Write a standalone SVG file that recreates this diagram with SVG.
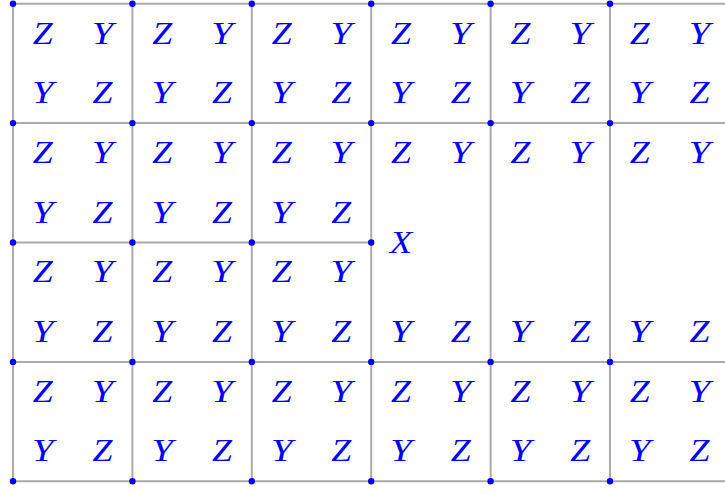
<svg xmlns="http://www.w3.org/2000/svg" width="725" height="494" viewBox="0 0 725 494">
<style>
.g{stroke:#aaaaaa;stroke-width:2;fill:none}
.d{fill:#0000ff}
text{font-family:"Liberation Serif","DejaVu Serif",serif;font-style:italic;font-size:31px;fill:#0000ff;text-anchor:middle}
</style>
<rect width="725" height="494" fill="#ffffff"/>
<g id="connectors" class="g">
<line x1="13" y1="3.7" x2="725" y2="3.7"/>
<line x1="13" y1="123.1" x2="725" y2="123.1"/>
<line x1="13" y1="242.5" x2="371.2" y2="242.5"/>
<line x1="13" y1="361.9" x2="725" y2="361.9"/>
<line x1="13" y1="481.3" x2="725" y2="481.3"/>
<line x1="13" y1="3.7" x2="13" y2="481.3"/>
<line x1="132.4" y1="3.7" x2="132.4" y2="481.3"/>
<line x1="251.8" y1="3.7" x2="251.8" y2="481.3"/>
<line x1="371.2" y1="3.7" x2="371.2" y2="481.3"/>
<line x1="490.6" y1="3.7" x2="490.6" y2="481.3"/>
<line x1="610" y1="3.7" x2="610" y2="481.3"/>
</g>
<g id="vertices" class="d">
<circle cx="13" cy="3.7" r="3.2"/><circle cx="132.4" cy="3.7" r="3.2"/><circle cx="251.8" cy="3.7" r="3.2"/><circle cx="371.2" cy="3.7" r="3.2"/><circle cx="490.6" cy="3.7" r="3.2"/><circle cx="610" cy="3.7" r="3.2"/>
<circle cx="13" cy="123.1" r="3.2"/><circle cx="132.4" cy="123.1" r="3.2"/><circle cx="251.8" cy="123.1" r="3.2"/><circle cx="371.2" cy="123.1" r="3.2"/><circle cx="490.6" cy="123.1" r="3.2"/><circle cx="610" cy="123.1" r="3.2"/>
<circle cx="13" cy="242.5" r="3.2"/><circle cx="132.4" cy="242.5" r="3.2"/><circle cx="251.8" cy="242.5" r="3.2"/><circle cx="371.2" cy="242.5" r="3.2"/>
<circle cx="13" cy="361.9" r="3.2"/><circle cx="132.4" cy="361.9" r="3.2"/><circle cx="251.8" cy="361.9" r="3.2"/><circle cx="371.2" cy="361.9" r="3.2"/><circle cx="490.6" cy="361.9" r="3.2"/><circle cx="610" cy="361.9" r="3.2"/>
<circle cx="13" cy="481.3" r="3.2"/><circle cx="132.4" cy="481.3" r="3.2"/><circle cx="251.8" cy="481.3" r="3.2"/><circle cx="371.2" cy="481.3" r="3.2"/><circle cx="490.6" cy="481.3" r="3.2"/><circle cx="610" cy="481.3" r="3.2"/>
</g>
<g id="cell-r0c0"><text x="42.85" y="43.5" textLength="20" lengthAdjust="spacingAndGlyphs">Z</text><text x="102.55" y="43.5" textLength="21.5" lengthAdjust="spacingAndGlyphs">Y</text><text x="42.85" y="103.2" textLength="21.5" lengthAdjust="spacingAndGlyphs">Y</text><text x="102.55" y="103.2" textLength="20" lengthAdjust="spacingAndGlyphs">Z</text></g>
<g id="cell-r0c1"><text x="162.25" y="43.5" textLength="20" lengthAdjust="spacingAndGlyphs">Z</text><text x="221.95" y="43.5" textLength="21.5" lengthAdjust="spacingAndGlyphs">Y</text><text x="162.25" y="103.2" textLength="21.5" lengthAdjust="spacingAndGlyphs">Y</text><text x="221.95" y="103.2" textLength="20" lengthAdjust="spacingAndGlyphs">Z</text></g>
<g id="cell-r0c2"><text x="281.65" y="43.5" textLength="20" lengthAdjust="spacingAndGlyphs">Z</text><text x="341.35" y="43.5" textLength="21.5" lengthAdjust="spacingAndGlyphs">Y</text><text x="281.65" y="103.2" textLength="21.5" lengthAdjust="spacingAndGlyphs">Y</text><text x="341.35" y="103.2" textLength="20" lengthAdjust="spacingAndGlyphs">Z</text></g>
<g id="cell-r0c3"><text x="401.05" y="43.5" textLength="20" lengthAdjust="spacingAndGlyphs">Z</text><text x="460.75" y="43.5" textLength="21.5" lengthAdjust="spacingAndGlyphs">Y</text><text x="401.05" y="103.2" textLength="21.5" lengthAdjust="spacingAndGlyphs">Y</text><text x="460.75" y="103.2" textLength="20" lengthAdjust="spacingAndGlyphs">Z</text></g>
<g id="cell-r0c4"><text x="520.45" y="43.5" textLength="20" lengthAdjust="spacingAndGlyphs">Z</text><text x="580.15" y="43.5" textLength="21.5" lengthAdjust="spacingAndGlyphs">Y</text><text x="520.45" y="103.2" textLength="21.5" lengthAdjust="spacingAndGlyphs">Y</text><text x="580.15" y="103.2" textLength="20" lengthAdjust="spacingAndGlyphs">Z</text></g>
<g id="cell-r0c5"><text x="639.85" y="43.5" textLength="20" lengthAdjust="spacingAndGlyphs">Z</text><text x="699.55" y="43.5" textLength="21.5" lengthAdjust="spacingAndGlyphs">Y</text><text x="639.85" y="103.2" textLength="21.5" lengthAdjust="spacingAndGlyphs">Y</text><text x="699.55" y="103.2" textLength="20" lengthAdjust="spacingAndGlyphs">Z</text></g>
<g id="cell-r1c0"><text x="42.85" y="162.9" textLength="20" lengthAdjust="spacingAndGlyphs">Z</text><text x="102.55" y="162.9" textLength="21.5" lengthAdjust="spacingAndGlyphs">Y</text><text x="42.85" y="222.6" textLength="21.5" lengthAdjust="spacingAndGlyphs">Y</text><text x="102.55" y="222.6" textLength="20" lengthAdjust="spacingAndGlyphs">Z</text></g>
<g id="cell-r1c1"><text x="162.25" y="162.9" textLength="20" lengthAdjust="spacingAndGlyphs">Z</text><text x="221.95" y="162.9" textLength="21.5" lengthAdjust="spacingAndGlyphs">Y</text><text x="162.25" y="222.6" textLength="21.5" lengthAdjust="spacingAndGlyphs">Y</text><text x="221.95" y="222.6" textLength="20" lengthAdjust="spacingAndGlyphs">Z</text></g>
<g id="cell-r1c2"><text x="281.65" y="162.9" textLength="20" lengthAdjust="spacingAndGlyphs">Z</text><text x="341.35" y="162.9" textLength="21.5" lengthAdjust="spacingAndGlyphs">Y</text><text x="281.65" y="222.6" textLength="21.5" lengthAdjust="spacingAndGlyphs">Y</text><text x="341.35" y="222.6" textLength="20" lengthAdjust="spacingAndGlyphs">Z</text></g>
<g id="cell-r2c0"><text x="42.85" y="282.3" textLength="20" lengthAdjust="spacingAndGlyphs">Z</text><text x="102.55" y="282.3" textLength="21.5" lengthAdjust="spacingAndGlyphs">Y</text><text x="42.85" y="342" textLength="21.5" lengthAdjust="spacingAndGlyphs">Y</text><text x="102.55" y="342" textLength="20" lengthAdjust="spacingAndGlyphs">Z</text></g>
<g id="cell-r2c1"><text x="162.25" y="282.3" textLength="20" lengthAdjust="spacingAndGlyphs">Z</text><text x="221.95" y="282.3" textLength="21.5" lengthAdjust="spacingAndGlyphs">Y</text><text x="162.25" y="342" textLength="21.5" lengthAdjust="spacingAndGlyphs">Y</text><text x="221.95" y="342" textLength="20" lengthAdjust="spacingAndGlyphs">Z</text></g>
<g id="cell-r2c2"><text x="281.65" y="282.3" textLength="20" lengthAdjust="spacingAndGlyphs">Z</text><text x="341.35" y="282.3" textLength="21.5" lengthAdjust="spacingAndGlyphs">Y</text><text x="281.65" y="342" textLength="21.5" lengthAdjust="spacingAndGlyphs">Y</text><text x="341.35" y="342" textLength="20" lengthAdjust="spacingAndGlyphs">Z</text></g>
<g id="cell-r12c3"><text x="401.05" y="162.9" textLength="20" lengthAdjust="spacingAndGlyphs">Z</text><text x="460.75" y="162.9" textLength="21.5" lengthAdjust="spacingAndGlyphs">Y</text><text x="401.05" y="252.7" textLength="22.5" lengthAdjust="spacingAndGlyphs">X</text><text x="401.05" y="342" textLength="21.5" lengthAdjust="spacingAndGlyphs">Y</text><text x="460.75" y="342" textLength="20" lengthAdjust="spacingAndGlyphs">Z</text></g>
<g id="cell-r12c4"><text x="520.45" y="162.9" textLength="20" lengthAdjust="spacingAndGlyphs">Z</text><text x="580.15" y="162.9" textLength="21.5" lengthAdjust="spacingAndGlyphs">Y</text><text x="520.45" y="342" textLength="21.5" lengthAdjust="spacingAndGlyphs">Y</text><text x="580.15" y="342" textLength="20" lengthAdjust="spacingAndGlyphs">Z</text></g>
<g id="cell-r12c5"><text x="639.85" y="162.9" textLength="20" lengthAdjust="spacingAndGlyphs">Z</text><text x="699.55" y="162.9" textLength="21.5" lengthAdjust="spacingAndGlyphs">Y</text><text x="639.85" y="342" textLength="21.5" lengthAdjust="spacingAndGlyphs">Y</text><text x="699.55" y="342" textLength="20" lengthAdjust="spacingAndGlyphs">Z</text></g>
<g id="cell-r3c0"><text x="42.85" y="401.7" textLength="20" lengthAdjust="spacingAndGlyphs">Z</text><text x="102.55" y="401.7" textLength="21.5" lengthAdjust="spacingAndGlyphs">Y</text><text x="42.85" y="461.4" textLength="21.5" lengthAdjust="spacingAndGlyphs">Y</text><text x="102.55" y="461.4" textLength="20" lengthAdjust="spacingAndGlyphs">Z</text></g>
<g id="cell-r3c1"><text x="162.25" y="401.7" textLength="20" lengthAdjust="spacingAndGlyphs">Z</text><text x="221.95" y="401.7" textLength="21.5" lengthAdjust="spacingAndGlyphs">Y</text><text x="162.25" y="461.4" textLength="21.5" lengthAdjust="spacingAndGlyphs">Y</text><text x="221.95" y="461.4" textLength="20" lengthAdjust="spacingAndGlyphs">Z</text></g>
<g id="cell-r3c2"><text x="281.65" y="401.7" textLength="20" lengthAdjust="spacingAndGlyphs">Z</text><text x="341.35" y="401.7" textLength="21.5" lengthAdjust="spacingAndGlyphs">Y</text><text x="281.65" y="461.4" textLength="21.5" lengthAdjust="spacingAndGlyphs">Y</text><text x="341.35" y="461.4" textLength="20" lengthAdjust="spacingAndGlyphs">Z</text></g>
<g id="cell-r3c3"><text x="401.05" y="401.7" textLength="20" lengthAdjust="spacingAndGlyphs">Z</text><text x="460.75" y="401.7" textLength="21.5" lengthAdjust="spacingAndGlyphs">Y</text><text x="401.05" y="461.4" textLength="21.5" lengthAdjust="spacingAndGlyphs">Y</text><text x="460.75" y="461.4" textLength="20" lengthAdjust="spacingAndGlyphs">Z</text></g>
<g id="cell-r3c4"><text x="520.45" y="401.7" textLength="20" lengthAdjust="spacingAndGlyphs">Z</text><text x="580.15" y="401.7" textLength="21.5" lengthAdjust="spacingAndGlyphs">Y</text><text x="520.45" y="461.4" textLength="21.5" lengthAdjust="spacingAndGlyphs">Y</text><text x="580.15" y="461.4" textLength="20" lengthAdjust="spacingAndGlyphs">Z</text></g>
<g id="cell-r3c5"><text x="639.85" y="401.7" textLength="20" lengthAdjust="spacingAndGlyphs">Z</text><text x="699.55" y="401.7" textLength="21.5" lengthAdjust="spacingAndGlyphs">Y</text><text x="639.85" y="461.4" textLength="21.5" lengthAdjust="spacingAndGlyphs">Y</text><text x="699.55" y="461.4" textLength="20" lengthAdjust="spacingAndGlyphs">Z</text></g>
</svg>
